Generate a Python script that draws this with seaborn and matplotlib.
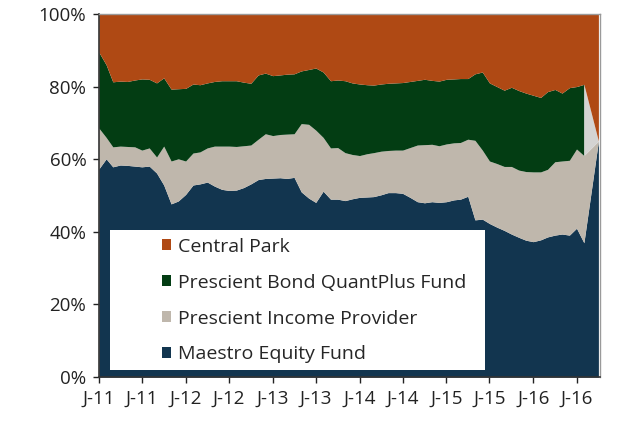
import numpy as np
import pandas as pd
import matplotlib
matplotlib.use("Agg")
import matplotlib.pyplot as plt
import matplotlib.dates as mdates
from matplotlib.patches import Patch, Rectangle
import seaborn as sns

# monthly portfolio weights (%), Jan-11 .. Aug-16
maestro = [57.3, 60.1, 57.9, 58.4, 58.3, 58.1, 57.9, 58.1, 56.2, 52.9, 47.7, 48.5,
           50.3, 52.9, 53.2, 53.7, 52.6, 51.7, 51.4, 51.5, 52.2, 53.2, 54.4, 54.7,
           54.8, 54.9, 54.7, 55.0, 51.0, 49.3, 48.1, 51.2, 49.0, 49.0, 48.6, 49.1,
           49.5, 49.6, 49.7, 50.2, 50.8, 50.8, 50.6, 49.5, 48.3, 48.0, 48.3, 48.1,
           48.3, 48.8, 49.0, 49.8, 43.3, 43.5, 42.3, 41.3, 40.4, 39.4, 38.5, 37.7,
           37.3, 37.8, 38.6, 39.1, 39.4, 39.1, 41.0, 37.0]
income = [11.3, 5.9, 5.5, 5.2, 5.2, 5.3, 4.6, 5.0, 4.4, 10.7, 11.8, 11.6,
          9.2, 8.8, 8.8, 9.4, 11.0, 11.9, 12.2, 12.0, 11.5, 10.7, 11.1, 12.3,
          11.7, 11.9, 12.2, 12.0, 18.8, 20.3, 19.9, 14.8, 14.1, 14.2, 13.2, 12.2,
          11.5, 11.9, 12.1, 12.0, 11.6, 11.7, 11.9, 13.7, 15.6, 16.0, 15.8, 15.6,
          15.9, 15.7, 15.6, 15.7, 21.9, 19.0, 17.2, 17.5, 17.6, 18.6, 18.5, 18.9,
          19.2, 18.7, 18.6, 20.2, 20.1, 20.6, 21.8, 24.0]
bond = [20.9, 20.0, 17.9, 17.9, 17.9, 18.4, 19.6, 18.9, 20.4, 18.8, 19.8, 19.3,
        20.0, 19.0, 18.5, 17.9, 17.8, 18.0, 18.0, 18.1, 17.5, 17.0, 17.7, 16.7,
        16.5, 16.4, 16.5, 16.5, 14.5, 15.1, 17.1, 18.0, 18.5, 18.6, 19.8, 19.7,
        19.7, 19.0, 18.6, 18.5, 18.5, 18.5, 18.6, 18.2, 17.8, 18.0, 17.6, 17.8,
        17.8, 17.6, 17.6, 16.7, 18.3, 21.5, 21.5, 21.2, 21.0, 21.8, 21.9, 21.6,
        21.1, 20.5, 21.4, 19.9, 18.7, 20.0, 17.2, 19.6]
central_park = [10.5, 14.0, 18.7, 18.5, 18.6, 18.2, 17.9, 18.0, 19.0, 17.6, 20.7, 20.6,
                20.5, 19.3, 19.5, 19.0, 18.6, 18.4, 18.4, 18.4, 18.8, 19.1, 16.8, 16.3,
                17.0, 16.8, 16.6, 16.5, 15.7, 15.3, 14.9, 16.0, 18.4, 18.2, 18.4, 19.0,
                19.3, 19.5, 19.6, 19.3, 19.1, 19.0, 18.9, 18.6, 18.3, 18.0, 18.3, 18.5,
                18.0, 17.9, 17.8, 17.8, 16.5, 16.0, 19.0, 20.0, 21.0, 20.2, 21.1, 21.8,
                22.4, 23.0, 21.4, 20.8, 21.8, 20.3, 20.0, 19.4]
other = [0.0] * 68

# tail of the series: bond switched out in Aug-16, then the last point in Oct-16
tail_dates = ["2016-08-01", "2016-10-01"]
tail_maestro = [37.0, 65.0]
tail_income = [24.0, 0.0]
tail_bond = [0.0, 0.0]
tail_other = [19.6, 0.0]
tail_central = [19.4, 35.0]

labels = ["Maestro Equity Fund", "Prescient Income Provider",
          "Prescient Bond QuantPlus Fund", "Central Park"]
colors = ["#12354F", "#BFB7AC", "#033D13", "#AF4914"]

dates = list(pd.date_range("2011-01-01", periods=len(maestro), freq="MS")) + \
    list(pd.to_datetime(tail_dates))
df = pd.DataFrame({
    "date": dates,
    labels[0]: maestro + tail_maestro,
    labels[1]: income + tail_income,
    labels[2]: bond + tail_bond,
    "Other": other + tail_other,
    labels[3]: central_park + tail_central,
})

sns.set_theme(style="ticks")
plt.rcParams["font.family"] = ["Open Sans", "DejaVu Sans"]

fig = plt.figure(figsize=(6.29, 4.34), dpi=100)
ax = fig.add_axes([0.157, 0.131, 0.797, 0.837])

ax.stackplot(df["date"], df[labels[0]], df[labels[1]], df[labels[2]],
             df["Other"], df[labels[3]],
             colors=colors[:3] + ["#D4D3D2", colors[3]], linewidth=0)

ax.set_ylim(0, 100)
ax.set_xlim(pd.Timestamp("2011-01-01"), pd.Timestamp("2016-10-08"))
ax.set_yticks(range(0, 101, 20))
ax.set_yticklabels([f"{v}%" for v in range(0, 101, 20)])

ax.xaxis.set_major_locator(mdates.MonthLocator(bymonth=[1, 7]))
ax.xaxis.set_major_formatter(
    matplotlib.ticker.FuncFormatter(lambda v, p: mdates.num2date(v).strftime("%b")[0]
                                    + "-" + mdates.num2date(v).strftime("%y")))

ax.tick_params(axis="both", labelsize=13.5, colors="#222222", length=4, width=1,
               direction="out")
ax.tick_params(axis="y", pad=5)
ax.tick_params(axis="x", pad=5)
for side in ["left", "bottom"]:
    ax.spines[side].set_color("#333333")
    ax.spines[side].set_linewidth(1.2)
for side in ["top", "right"]:
    ax.spines[side].set_color("#9a9a9a")
    ax.spines[side].set_linewidth(1.0)
ax.set_xlabel("")
ax.set_ylabel("")

# white legend panel
ax.add_patch(Rectangle((0.022, 0.019), 0.748, 0.386, transform=ax.transAxes,
                       facecolor="white", edgecolor="none", zorder=3))
handles = [Patch(facecolor=colors[i], edgecolor="none") for i in [3, 2, 1, 0]]
leg = ax.legend(handles, [labels[i] for i in [3, 2, 1, 0]],
                loc="upper left", bbox_to_anchor=(0.11, 0.405), frameon=False,
                fontsize=14, labelspacing=0.92, handlelength=0.5, handleheight=0.5,
                handletextpad=0.33, borderaxespad=0)
leg.set_zorder(4)

fig.savefig("out.png", dpi=100)
